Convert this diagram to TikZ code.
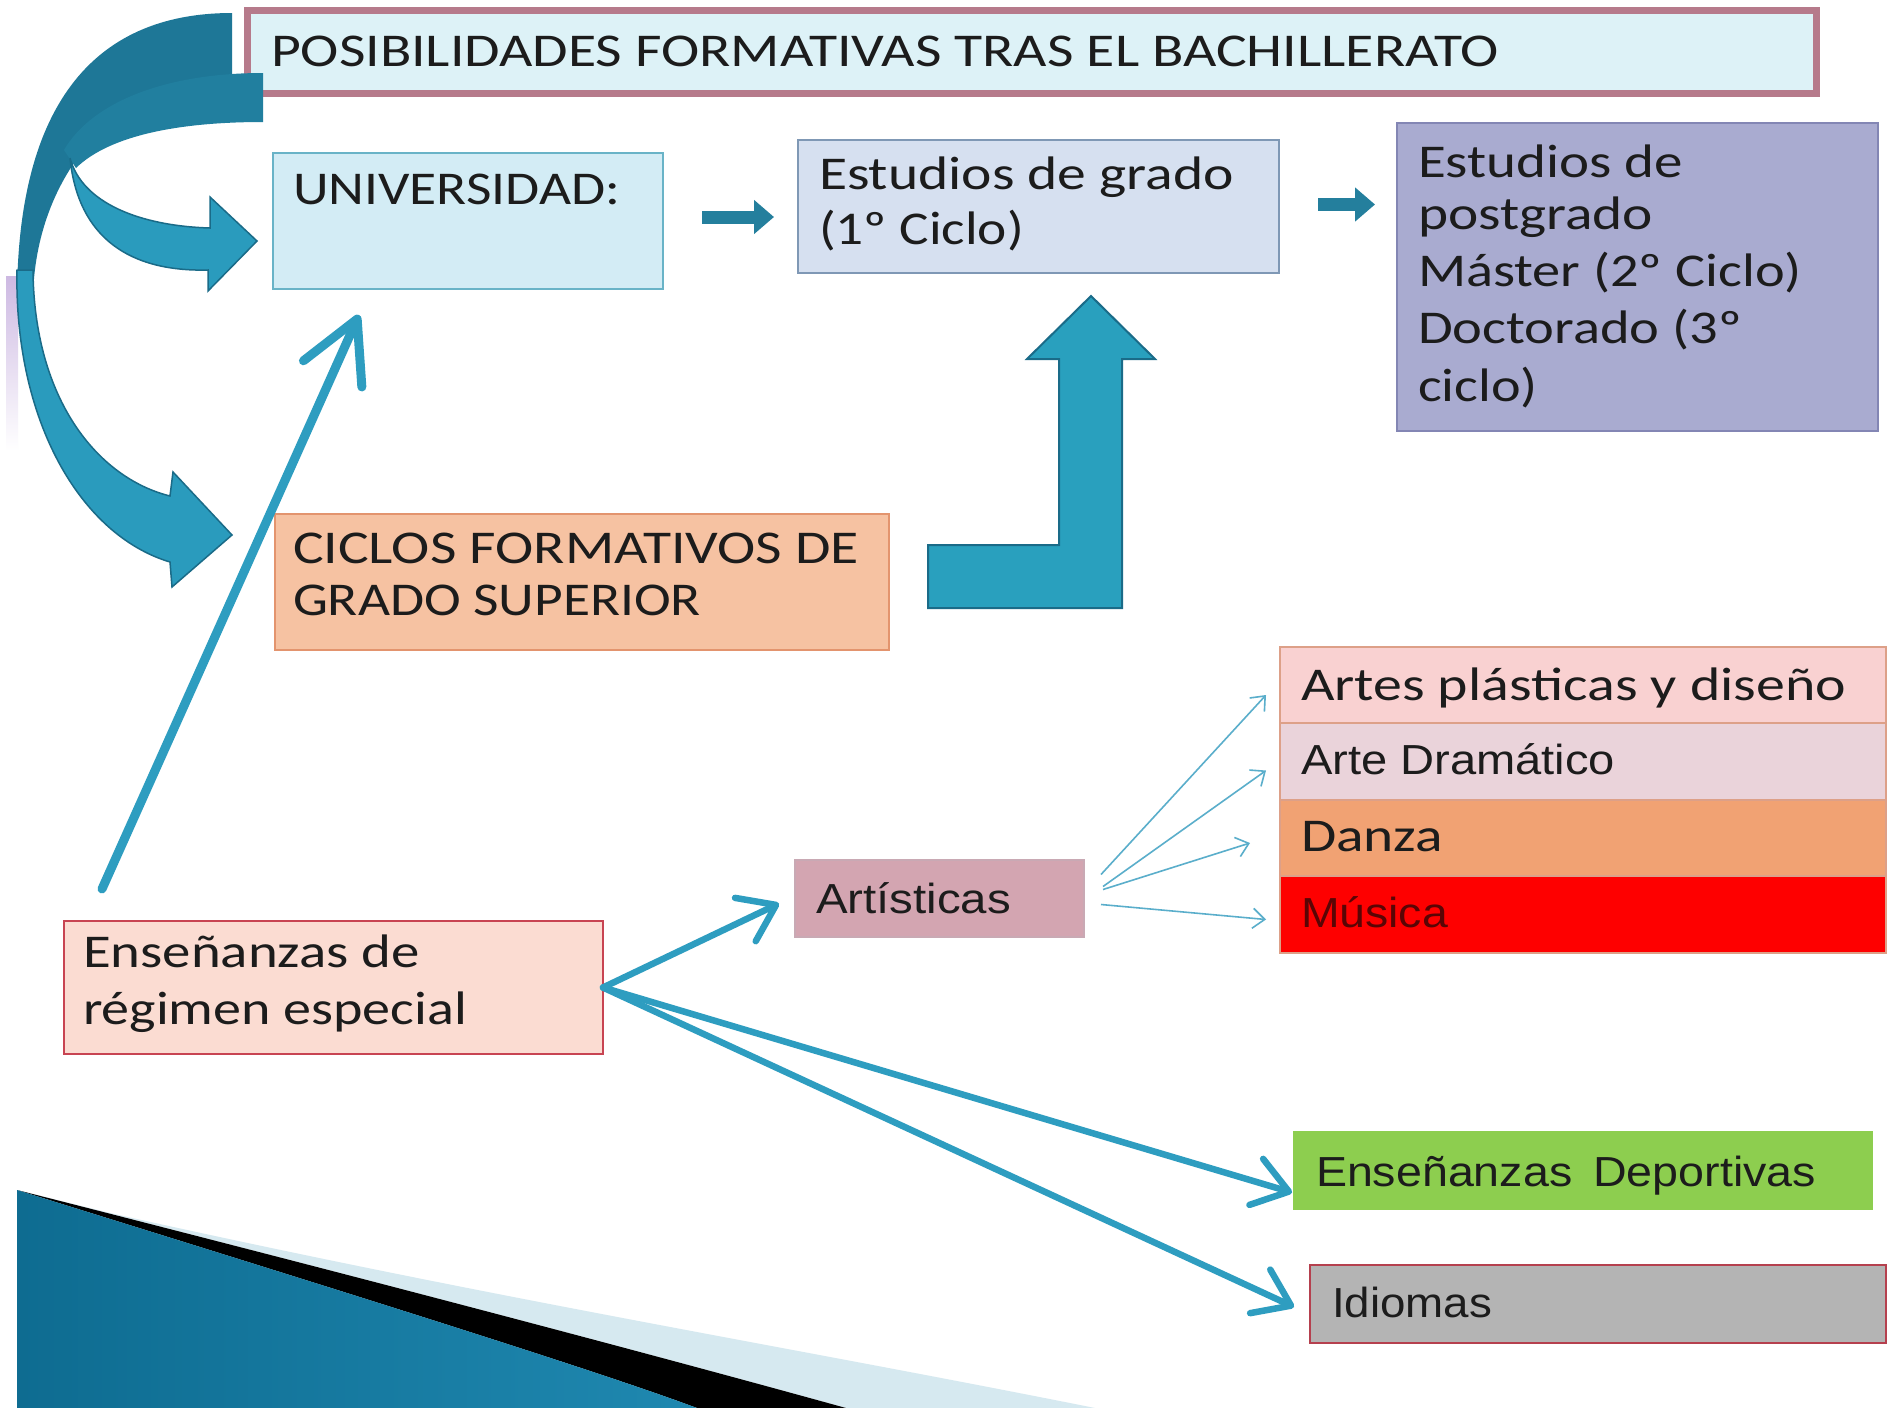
\documentclass[tikz,border=0pt]{standalone}
\usepackage{fontspec}
\setmainfont{Carlito}
\newfontfamily\arialf{Liberation Sans}
\usetikzlibrary{arrows.meta,calc}
\definecolor{titlefill}{HTML}{DDF2F7}
\definecolor{titledraw}{HTML}{B67A8B}
\definecolor{univfill}{HTML}{D3ECF5}
\definecolor{univdraw}{HTML}{69B3C7}
\definecolor{gradofill}{HTML}{D6E0F0}
\definecolor{gradodraw}{HTML}{7F98B5}
\definecolor{postfill}{HTML}{A9ABD0}
\definecolor{postdraw}{HTML}{8386B4}
\definecolor{ciclofill}{HTML}{F6C2A2}
\definecolor{ciclodraw}{HTML}{E3946E}
\definecolor{ensfill}{HTML}{FBDCD2}
\definecolor{ensdraw}{HTML}{C84452}
\definecolor{artfill}{HTML}{D3A5B1}
\definecolor{artdraw}{HTML}{C9A9B4}
\definecolor{sAfill}{HTML}{F9D1D1}
\definecolor{sBfill}{HTML}{EAD3DA}
\definecolor{sCfill}{HTML}{F1A273}
\definecolor{sDfill}{HTML}{FE0000}
\definecolor{sdraw}{HTML}{DDA088}
\definecolor{depfill}{HTML}{8DCE4F}
\definecolor{idifill}{HTML}{B4B4B4}
\definecolor{ididraw}{HTML}{B5404E}
\definecolor{tealline}{HTML}{2E9DC0}
\definecolor{thinline}{HTML}{5AAECB}
\definecolor{darkteal}{HTML}{1E7797}
\definecolor{darktealB}{HTML}{217F9F}
\definecolor{midteal}{HTML}{2A9BBD}
\definecolor{edgeteal}{HTML}{1A6B88}
\definecolor{blockteal}{HTML}{29A0BE}
\definecolor{smallteal}{HTML}{247F9D}
\definecolor{txt}{HTML}{1C1C1C}
\definecolor{musictxt}{HTML}{5A0505}
\definecolor{purp}{HTML}{CDB9E2}
\definecolor{swA}{HTML}{0E6C91}
\definecolor{swB}{HTML}{44AFD6}
\definecolor{swC}{HTML}{1F88B0}
\definecolor{swL}{HTML}{D6E9F0}
\newcommand{\fitw}[2]{\resizebox{#1pt}{\height}{#2}}
\tikzset{
  box/.style={anchor=north west, inner sep=0pt, outer sep=0pt, line width=1.5pt},
  ctxt/.style={anchor=west, inner sep=0pt, outer sep=0pt, text=txt,
    font=\fontsize{47}{47}\selectfont, text height=30pt, text depth=0pt},
  atxt/.style={ctxt, font=\arialf\fontsize{42}{42}\selectfont},
  bigarrow/.style={draw=tealline, line width=6.5pt, line cap=round,
    -{Straight Barb[length=34pt,width=48pt,line cap=round,line join=round]}},
  longarrow/.style={draw=tealline, line width=9pt, line cap=round,
    -{Straight Barb[length=60pt,width=64pt,line cap=round,line join=round]}},
  thinarrow/.style={draw=thinline, line width=1.6pt,
    -{Straight Barb[length=12pt,width=20pt]}},
  blockarr/.style={draw=smallteal, line width=13pt,
    -{Triangle[length=20pt,width=33pt]}}
}
\begin{document}
\begin{tikzpicture}[x=1pt,y=-1pt]
\useasboundingbox (0,0) rectangle (1888,1408);
\fill[white] (0,0) rectangle (1888,1408);

% bottom swoosh
\fill[swL] (110,1213) .. controls (500,1300) and (780,1345) .. (1095,1408) -- (846,1408) .. controls (600,1340) and (300,1262) .. (17,1190) -- cycle;
\fill[black] (17,1190) .. controls (300,1262) and (600,1340) .. (846,1408) -- (697,1408) .. controls (590,1368) and (300,1278) .. (17,1190) -- cycle;
\shade[left color=swA, middle color=swB, right color=swC] (17,1190) .. controls (300,1278) and (590,1368) .. (697,1408) -- (17,1408) -- cycle;

% faint purple bar
\shade[top color=purp, bottom color=white] (6,276) rectangle (18,451);

% boxes
\node[box, fill=titlefill, draw=titledraw, line width=7pt, minimum width=1569pt, minimum height=83pt] (title) at (247,10) {};
\node[box, fill=univfill, draw=univdraw, minimum width=390pt, minimum height=136pt] (univ) at (273,153) {};
\node[box, fill=gradofill, draw=gradodraw, minimum width=481pt, minimum height=133pt] (grado) at (798,140) {};
\node[box, fill=postfill, draw=postdraw, minimum width=481pt, minimum height=308pt] (post) at (1397,123) {};
\node[box, fill=ciclofill, draw=ciclodraw, minimum width=614pt, minimum height=136pt] (ciclo) at (275,514) {};
\node[box, fill=ensfill, draw=ensdraw, minimum width=539pt, minimum height=133pt] (ens) at (64,921) {};
\node[box, fill=artfill, draw=artdraw, minimum width=289pt, minimum height=77pt] (art) at (795,860) {};
\node[box, fill=sAfill, draw=sdraw, minimum width=606pt, minimum height=76pt] (sA) at (1280,647) {};
\node[box, fill=sBfill, draw=sdraw, minimum width=606pt, minimum height=77pt] (sB) at (1280,723) {};
\node[box, fill=sCfill, draw=sdraw, minimum width=606pt, minimum height=76pt] (sC) at (1280,800) {};
\node[box, fill=sDfill, draw=sdraw, minimum width=606pt, minimum height=77pt] (sD) at (1280,876) {};
\node[box, fill=depfill, draw=depfill, minimum width=578pt, minimum height=77pt] (dep) at (1294,1132) {};
\node[box, fill=idifill, draw=ididraw, minimum width=576pt, minimum height=78pt] (idi) at (1310,1265) {};

% curved arrows (left)
\fill[darkteal] (232,13) .. controls (90,13) and (17,110) .. (17,300) -- (33,300) .. controls (34,175) and (120,76) .. (232,76) -- cycle;
\fill[darktealB] (263,73) .. controls (160,73) and (90,105) .. (64,150) -- (76,168) .. controls (110,135) and (180,122) .. (263,122) -- cycle;
\filldraw[fill=midteal, draw=edgeteal, line width=1.5pt] (17,270) .. controls (14,420) and (80,535) .. (170,562) -- (172,587) -- (232,535) -- (173,472) -- (170,496) .. controls (98,478) and (34,400) .. (33,270) -- cycle;
\filldraw[fill=midteal, draw=edgeteal, line width=1.5pt] (70,158) .. controls (82,203) and (140,226) .. (210,228) -- (210,197) -- (257,241) -- (208,291) -- (208,270) .. controls (130,272) and (78,238) .. (70,158) -- cycle;

% bent arrow ciclos -> grado
\filldraw[fill=blockteal, draw=edgeteal, line width=2pt] (928,545) -- (1059,545) -- (1059,359) -- (1027,359) -- (1091,296) -- (1155,359) -- (1122,359) -- (1122,608) -- (928,608) -- cycle;

% small block arrows
\coordinate (a1s) at ($(univ.east)+(39,-4)$);
\draw[blockarr, shorten >=24pt] (a1s) -- (a1s -| grado.west);
\coordinate (a2s) at ($(grado.east)+(39,-2)$);
\draw[blockarr, shorten >=22pt] (a2s) -- (a2s -| post.west);

% long arrow to universidad
\coordinate (lstart) at ($(ens.north west)+(38,-32)$);
\coordinate (lend) at ($(univ.south west)+(86,26)$);
\draw[longarrow] (lstart) -- (lend);

% arrows from ensenanzas
\draw[bigarrow] (ens.east) -- ($(art.west)+(-16,5)$);
\draw[bigarrow] (ens.east) -- ($(dep.west)+(-2,22)$);
\draw[bigarrow] (ens.east) -- ($(idi.west)+(-16,3)$);

% thin arrows from artisticas
\draw[thinarrow] ($(art.east)+(17,-24)$) -- ($(sA.west)+(-14,10)$);
\draw[thinarrow] ($(art.east)+(19,-12)$) -- ($(sB.west)+(-14,9)$);
\draw[thinarrow] ($(art.east)+(19,-9)$) -- ($(sC.west)+(-30,5)$);
\draw[thinarrow] ($(art.east)+(17,6)$) -- ($(sD.west)+(-14,5)$);

% texts
\node[ctxt] (titlet) at (271,51) {\fitw{1228}{POSIBILIDADES FORMATIVAS TRAS EL BACHILLERATO}};
\node[ctxt] (univt) at (293,189) {\fitw{327}{UNIVERSIDAD:}};
\node[ctxt] (gradot1) at (819,174) {\fitw{415}{Estudios de grado}};
\node[ctxt] (gradot2) at (819,229) {\fitw{205}{(1º Ciclo)}};
\node[ctxt] (postt1) at (1418,162) {\fitw{265}{Estudios de}};
\node[ctxt] (postt2) at (1418,214) {\fitw{235}{postgrado}};
\node[ctxt] (postt3) at (1418,271) {\fitw{384}{Máster (2º Ciclo)}};
\node[ctxt] (postt4) at (1418,328) {\fitw{324}{Doctorado (3º}};
\node[ctxt] (postt5) at (1418,386) {\fitw{120}{ciclo)}};
\node[ctxt] (ciclot1) at (293,548) {\fitw{566}{CICLOS FORMATIVOS DE}};
\node[ctxt] (ciclot2) at (293,600) {\fitw{408}{GRADO SUPERIOR}};
\node[ctxt] (enst1) at (83,952) {\fitw{337}{Enseñanzas de}};
\node[ctxt] (enst2) at (83,1009) {\fitw{384}{régimen especial}};
\node[atxt] (artt) at (816,898) {\fitw{195}{Artísticas}};
\node[ctxt] (sAt) at (1301,685) {\fitw{545}{Artes plásticas y diseño}};
\node[atxt] (sBt) at (1301,759) {\fitw{314}{Arte Dramático}};
\node[ctxt] (sCt) at (1301,836) {\fitw{142}{Danza}};
\node[atxt, text=musictxt] (sDt) at (1301,912) {\fitw{147}{Música}};
\node[atxt] (dept) at (1316,1171) {\fitw{500}{Enseñanzas\hspace{0.45em}Deportivas}};
\node[atxt] (idit) at (1332,1302) {\fitw{160}{Idiomas}};
\end{tikzpicture}
\end{document}
